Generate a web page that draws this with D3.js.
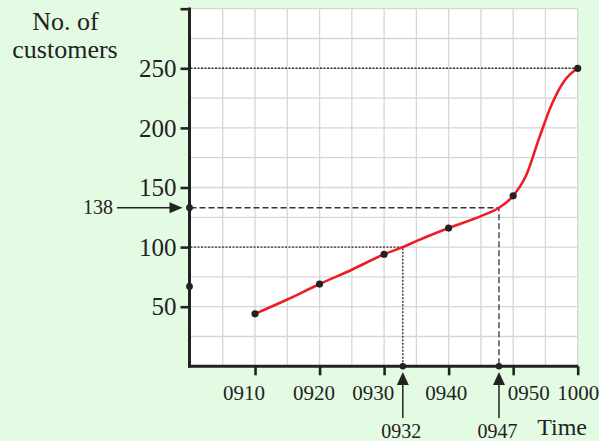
<!DOCTYPE html>
<html>
<head>
<meta charset="utf-8">
<script src="https://cdn.jsdelivr.net/npm/d3@7"></script>
<style>
  html, body { margin: 0; padding: 0; background: #e4fbe3; }
  svg { display: block; }
  text { font-family: "Liberation Serif", "Times New Roman", serif; fill: #222; }
</style>
</head>
<body>
<svg id="chart" width="599" height="441"></svg>
<script>
// ---- data (minutes after 0900, number of customers) ----
const pointTimes = [10, 20, 30, 40, 50, 60];
const pointValues = [44, 69, 94, 116, 143, 250];
// shape of the drawn curve
const curveTimes = [10, 15, 20, 25, 30, 32.9, 35, 40, 45, 47.8, 50, 52, 54, 56, 58, 60];
const curveValues = [44, 56, 69, 81, 94, 100, 105, 116, 126, 133, 143, 160, 191, 220, 240, 250];
// lone point on the vertical axis
const extraTimes = [0];
const extraValues = [67];
// tick labels
const xTickTimes = [10, 20, 30, 40, 50, 60];
const xTickLabels = ["0910", "0920", "0930", "0940", "0950", "1000"];
const yTickValues = [50, 100, 150, 200, 250];
const yTickLabels = ["50", "100", "150", "200", "250"];
// annotations
const readTimes = [32.9, 47.8];           // where the guide lines meet the time axis
const readTimeLabels = ["0932", "0947"];
const readLevels = [100, 133];             // where they meet the customer axis
const levelLabel = "138";
const topLevel = 250;

// ---- layout ----
const svg = d3.select("#chart");
const x = d3.scaleLinear().domain([0, 60]).range([190.5, 577.7]);
const y = d3.scaleLinear().domain([0, 300]).range([366.3, 8.7]);
const xLabelDx = [-11.5, -6, -11.3, -3, 15, 0];

// plot background
svg.append("rect")
  .attr("x", x(0)).attr("y", y(300))
  .attr("width", x(60) - x(0)).attr("height", y(0) - y(300))
  .attr("fill", "#ffffff");

// grid
const grid = svg.append("g").attr("stroke", "#d6d6d6").attr("stroke-width", 1.3);
grid.selectAll("line.v").data(d3.range(5, 61, 5)).join("line")
  .attr("x1", d => x(d)).attr("x2", d => x(d))
  .attr("y1", y(0)).attr("y2", y(300));
grid.selectAll("line.h").data(d3.range(25, 301, 25)).join("line")
  .attr("x1", x(0)).attr("x2", x(60))
  .attr("y1", d => y(d)).attr("y2", d => y(d));

// guide lines
const guides = svg.append("g").attr("fill", "none").attr("stroke", "#333");
guides.append("line")
  .attr("x1", x(0)).attr("x2", x(60)).attr("y1", y(topLevel)).attr("y2", y(topLevel))
  .attr("stroke-width", 1.4).attr("stroke-dasharray", "2,1.5");
guides.append("path")
  .attr("d", `M${x(0)},${y(readLevels[0])}H${x(readTimes[0])}V${y(0)}`)
  .attr("stroke-width", 1.4).attr("stroke-dasharray", "2,1.5");
guides.append("path")
  .attr("d", `M${x(0)},${y(readLevels[1])}H${x(readTimes[1])}V${y(0)}`)
  .attr("stroke-width", 1.3).attr("stroke-dasharray", "6,3");

// curve
const line = d3.line()
  .x((d, i) => x(curveTimes[i]))
  .y((d, i) => y(curveValues[i]))
  .curve(d3.curveMonotoneX);
svg.append("path")
  .attr("d", line(curveTimes))
  .attr("fill", "none")
  .attr("stroke", "#ee1c25")
  .attr("stroke-width", 2.6);

// axes
const yAxis = d3.axisLeft(y).tickValues([...yTickValues, 300])
  .tickSize(9).tickPadding(4)
  .tickFormat(d => { const i = yTickValues.indexOf(d); return i < 0 ? "" : yTickLabels[i]; });
const gy = svg.append("g").attr("transform", `translate(${x(0) - 1},0)`).call(yAxis);
gy.select(".domain").remove();
gy.selectAll(".tick line").attr("stroke", "#222").attr("stroke-width", 2.6);
gy.selectAll(".tick text").attr("font-size", 25).attr("font-family", "Liberation Serif")
  .attr("fill", "#222").attr("dy", "0.33em");
gy.append("line").attr("x1", 0).attr("x2", 0)
  .attr("y1", y(300) - 1.3).attr("y2", y(0) + 1.3)
  .attr("stroke", "#222").attr("stroke-width", 3);

const xAxis = d3.axisBottom(x).tickValues(xTickTimes)
  .tickSize(9).tickPadding(10)
  .tickFormat((d, i) => xTickLabels[i]);
const gx = svg.append("g").attr("transform", `translate(0,${y(0)})`).call(xAxis);
gx.select(".domain").remove();
gx.selectAll(".tick line").attr("stroke", "#222").attr("stroke-width", 2.6);
gx.selectAll(".tick text").attr("font-size", 21).attr("font-family", "Liberation Serif")
  .attr("fill", "#222").attr("dy", "0.72em")
  .attr("dx", (d, i) => xLabelDx[i]);
gx.append("line").attr("x1", x(0) - 2.5).attr("x2", x(60) + 0.5)
  .attr("y1", 0).attr("y2", 0)
  .attr("stroke", "#222").attr("stroke-width", 3);

// points
const dots = svg.append("g").attr("fill", "#222");
dots.selectAll("circle.p").data(pointTimes).join("circle")
  .attr("cx", (d, i) => x(pointTimes[i])).attr("cy", (d, i) => y(pointValues[i])).attr("r", 3.6);
dots.selectAll("circle.e").data(extraTimes).join("circle").attr("class", "e")
  .attr("cx", (d, i) => x(extraTimes[i]) - 1).attr("cy", (d, i) => y(extraValues[i])).attr("r", 3.4);
dots.selectAll("circle.t").data(readTimes).join("circle").attr("class", "t")
  .attr("cx", d => x(d)).attr("cy", y(0)).attr("r", 3.2);
dots.append("circle").attr("cx", x(0) - 1).attr("cy", y(readLevels[1])).attr("r", 3.4);

// arrow for the level label
const arr = svg.append("g");
const ly = y(readLevels[1]);
arr.append("line").attr("x1", 117).attr("x2", 172).attr("y1", ly).attr("y2", ly)
  .attr("stroke", "#222").attr("stroke-width", 1.5);
arr.append("path").attr("d", `M${x(0) - 8},${ly}L${x(0) - 21},${ly - 5.5}L${x(0) - 21},${ly + 5.5}Z`)
  .attr("fill", "#222");
arr.append("text").attr("x", 113).attr("y", ly).attr("dy", "0.33em")
  .attr("text-anchor", "end").attr("font-size", 20).text(levelLabel);

// arrows for the time labels
readTimes.forEach((t, i) => {
  const cx = x(t);
  arr.append("line").attr("x1", cx).attr("x2", cx).attr("y1", 418).attr("y2", 382)
    .attr("stroke", "#222").attr("stroke-width", 1.5);
  arr.append("path").attr("d", `M${cx},${372}L${cx - 6},${385}L${cx + 6},${385}Z`).attr("fill", "#222");
  arr.append("text").attr("x", cx - 1.5).attr("y", 438).attr("text-anchor", "middle")
    .attr("font-size", 20).text(readTimeLabels[i]);
});

// axis titles
svg.append("text").attr("x", 65.5).attr("y", 30).attr("text-anchor", "middle")
  .attr("font-size", 26).text("No. of");
svg.append("text").attr("x", 65).attr("y", 58).attr("text-anchor", "middle")
  .attr("font-size", 26).text("customers");
svg.append("text").attr("x", 587).attr("y", 435).attr("text-anchor", "end")
  .attr("font-size", 24).text("Time");
</script>
</body>
</html>
